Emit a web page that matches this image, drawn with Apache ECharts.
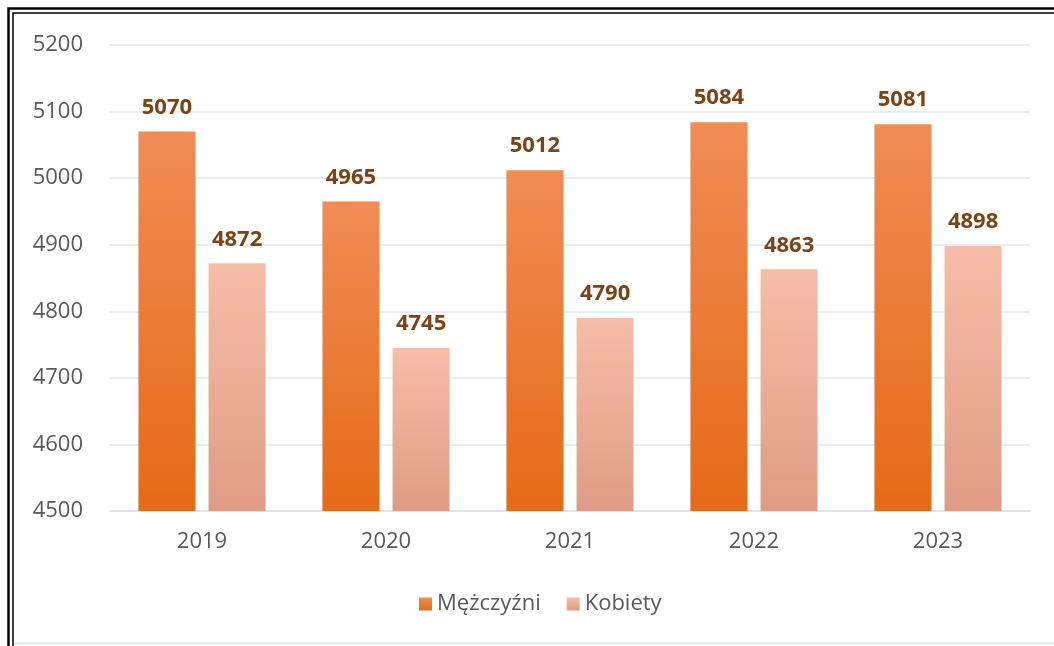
<!DOCTYPE html>
<html>

<head>
  <meta charset="utf-8">
  <title>Mężczyźni / Kobiety</title>
  <script src="https://cdn.jsdelivr.net/npm/echarts@6/dist/echarts.min.js"></script>
  <style>
    html, body { margin: 0; padding: 0; background: #fff; }
  </style>
</head>

<body>
  <div id="chart" style="width: 1054px;height:646px;"></div>
  <script>
    const years = ['2019', '2020', '2021', '2022', '2023'];
    const men = [5070, 4965, 5012, 5084, 5081];
    const women = [4872, 4745, 4790, 4863, 4898];
    const yTicks = [4500, 4600, 4700, 4800, 4900, 5000, 5100, 5200];

    const font = '"Open Sans", "Noto Sans", sans-serif';

    let myChart = echarts.init(document.getElementById('chart'));
    let label = {
      show: true,
      position: 'top',
      distance: 13,
      color: '#7a4418',
      fontFamily: font,
      fontWeight: 'bold',
      fontSize: 22
    };
    let option = {
      animation: false,
      graphic: [
        { type: 'rect', shape: { x: 8.5, y: 8.5, width: 1100, height: 1000 }, style: { fill: 'none', stroke: '#000', lineWidth: 2.5 } },
        { type: 'rect', shape: { x: 13, y: 13, width: 1100, height: 1000 }, style: { fill: 'none', stroke: '#000', lineWidth: 1.5 } },
        { type: 'line', shape: { x1: 14, y1: 643.5, x2: 1054, y2: 643.5 }, style: { stroke: '#e2e6ec', lineWidth: 2 } }
      ],
      legend: {
        data: ['Mężczyźni', 'Kobiety'],
        top: 588,
        left: 414,
        itemWidth: 13,
        itemHeight: 13,
        itemGap: 26,
        icon: 'rect',
        textStyle: { color: '#595959', fontFamily: font, fontSize: 22 }
      },
      grid: {
        left: 110,
        right: 24,
        top: 45,
        bottom: 135
      },
      xAxis: {
        type: 'category',
        data: years,
        axisTick: { show: false },
        axisLine: { lineStyle: { color: '#dcdfe4', width: 1.5 } },
        axisLabel: { color: '#595959', fontFamily: font, fontSize: 22, margin: 20 }
      },
      yAxis: {
        type: 'value',
        min: yTicks[0],
        max: yTicks[yTicks.length - 1],
        interval: 100,
        axisLabel: { color: '#595959', fontFamily: font, fontSize: 22, margin: 27, formatter: function (v) { return String(v); } },
        splitLine: { lineStyle: { color: '#e2e6ec', width: 1.5 } }
      },
      series: [
        {
          name: 'Mężczyźni',
          type: 'bar',
          data: men,
          barWidth: 57,
          barGap: '23%',
          label: label,
          itemStyle: {
            color: new echarts.graphic.LinearGradient(0, 0, 0, 1, [
              { offset: 0, color: '#f08c56' },
              { offset: 1, color: '#e66a17' }
            ])
          }
        },
        {
          name: 'Kobiety',
          type: 'bar',
          data: women,
          barWidth: 57,
          label: label,
          itemStyle: {
            color: new echarts.graphic.LinearGradient(0, 0, 0, 1, [
              { offset: 0, color: '#f6bda8' },
              { offset: 1, color: '#e09c84' }
            ])
          }
        }
      ]
    };
    myChart.setOption(option);
  </script>

</body>

</html>
